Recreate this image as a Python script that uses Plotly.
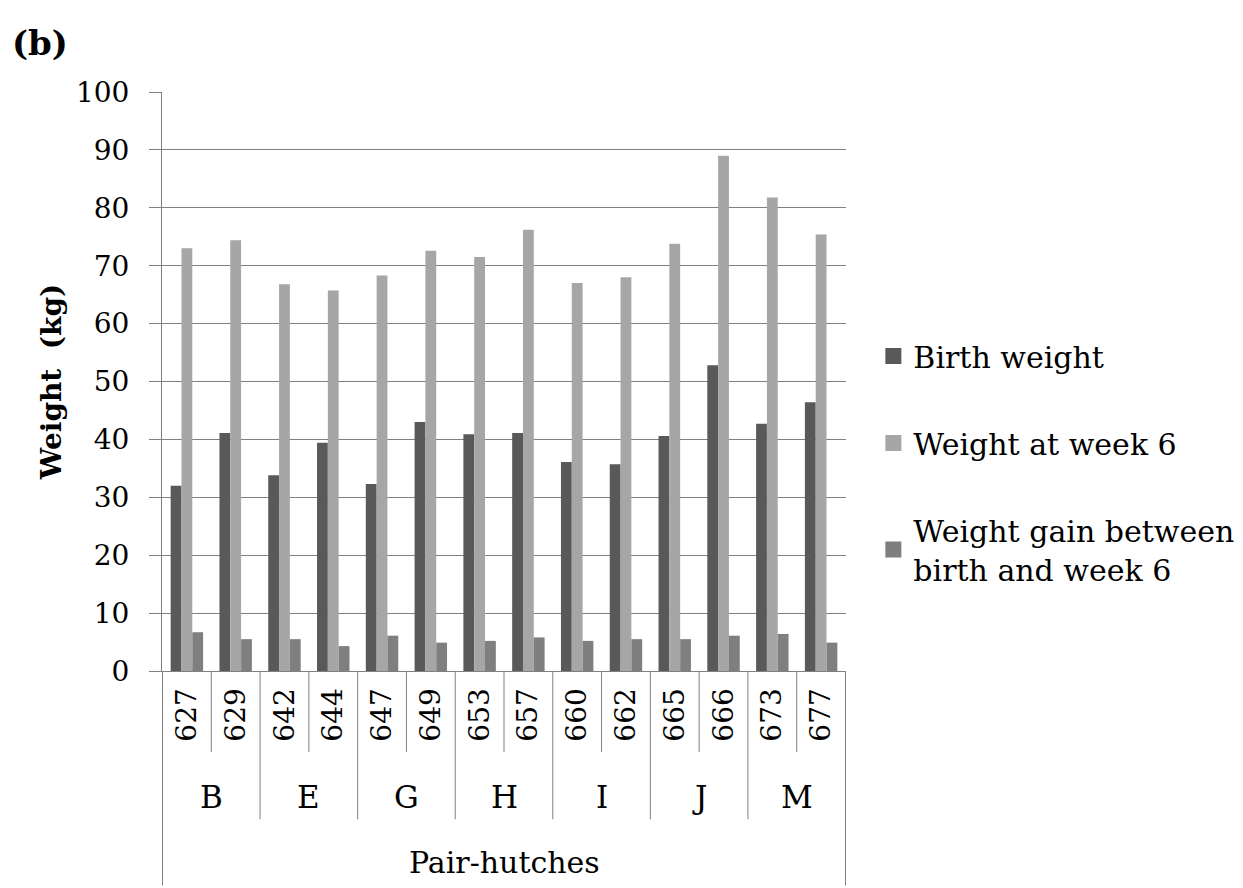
import plotly.graph_objects as go

# Pair-hutch identifiers and their groups
hutches = ["627", "629", "642", "644", "647", "649", "653",
           "657", "660", "662", "665", "666", "673", "677"]
groups = ["B", "E", "G", "H", "I", "J", "M"]

# Weights (kg)
birth_weight = [32.0, 41.1, 33.8, 39.4, 32.3, 43.0, 40.9,
                41.1, 36.1, 35.7, 40.6, 52.8, 42.7, 46.4]
week6_weight = [73.0, 74.4, 66.8, 65.7, 68.3, 72.6, 71.5,
                76.2, 67.0, 68.0, 73.8, 89.0, 81.8, 75.4]
weight_gain = [6.7, 5.5, 5.5, 4.3, 6.1, 4.9, 5.2,
               5.8, 5.2, 5.5, 5.5, 6.1, 6.4, 4.9]

series_names = ["Birth weight", "Weight at week 6",
                "Weight gain between<br>birth and week 6"]
series_colors = ["#595959", "#a6a6a6", "#7f7f7f"]

FONT = "DejaVu Serif"
GRID = "#808080"

fig = go.Figure()
for name, vals, col in zip(series_names,
                           [birth_weight, week6_weight, weight_gain],
                           series_colors):
    fig.add_trace(go.Bar(x=hutches, y=vals, name=name,
                         marker=dict(color=col, line=dict(width=0)),
                         legendgroup=name, showlegend=False))
    # square legend key for the series
    fig.add_trace(go.Scatter(x=[None], y=[None], mode="markers", name=name,
                             marker=dict(symbol="square", size=16, color=col),
                             legendgroup=name, showlegend=True))

# Separators for the category levels below the axis
shapes = []
n = len(hutches)
for i in range(1, n):
    bottom = -0.256 if i % 2 == 0 else -0.140
    shapes.append(dict(type="line", xref="x", yref="paper",
                       x0=i - 0.5, x1=i - 0.5, y0=0, y1=bottom,
                       line=dict(color=GRID, width=1)))
for xe in (-0.5, n - 0.5):
    shapes.append(dict(type="line", xref="x", yref="paper",
                       x0=xe, x1=xe, y0=0, y1=-0.370,
                       line=dict(color=GRID, width=1)))

annotations = []
for g, name in enumerate(groups):
    annotations.append(dict(x=2 * g + 0.5, y=-0.218, xref="x", yref="paper",
                            text=name, showarrow=False,
                            font=dict(family=FONT, size=31, color="black"),
                            xanchor="center", yanchor="middle"))
annotations.append(dict(x=(n - 1) / 2, y=-0.330, xref="x", yref="paper",
                        text="Pair-hutches", showarrow=False,
                        font=dict(family=FONT, size=30, color="black"),
                        xanchor="center", yanchor="middle"))
annotations.append(dict(x=-0.222, y=1.085, xref="paper", yref="paper",
                        text="<b>(b)</b>", showarrow=False,
                        font=dict(family=FONT, size=34, color="black"),
                        xanchor="left", yanchor="middle"))

fig.update_layout(
    width=1243, height=888,
    margin=dict(l=162, r=397, t=92, b=217, autoexpand=False),
    paper_bgcolor="white", plot_bgcolor="white",
    font=dict(family=FONT, size=28, color="black"),
    barmode="group", bargap=0.335, bargroupgap=0,
    showlegend=True,
    legend=dict(x=1.04, y=0.36, xanchor="left", yanchor="middle",
                font=dict(family=FONT, size=30, color="black"),
                tracegroupgap=45, itemwidth=30, bgcolor="rgba(0,0,0,0)"),
    shapes=shapes, annotations=annotations,
)

fig.update_xaxes(type="category", tickangle=-90, ticks="", showgrid=False,
                 showline=True, linecolor=GRID, linewidth=1,
                 tickfont=dict(family=FONT, size=28, color="black"),
                 ticklabelstandoff=5, automargin=False)
fig.update_yaxes(range=[0, 100], dtick=10, showgrid=True, gridcolor=GRID,
                 gridwidth=1, showline=True, linecolor=GRID, linewidth=1,
                 ticks="outside", ticklen=12, tickcolor=GRID, zeroline=False,
                 tickfont=dict(family=FONT, size=28, color="black"),
                 ticklabelstandoff=14, automargin=False,
                 title=dict(text="<b>Weight  (kg)</b>", standoff=6,
                            font=dict(family=FONT, size=28, color="black")))

fig.write_html("out.html")
